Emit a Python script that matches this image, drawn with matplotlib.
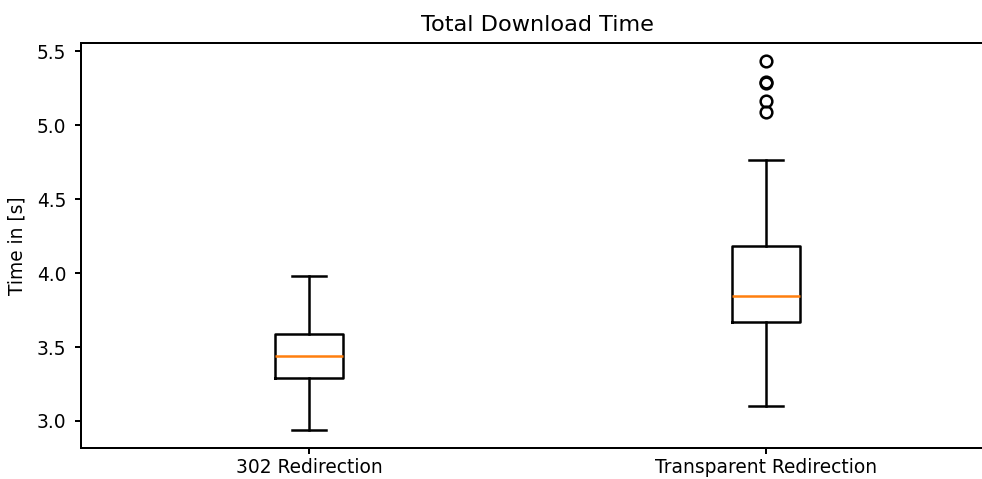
import matplotlib
matplotlib.use("Agg")
import matplotlib.pyplot as plt

categories = ["302 Redirection", "Transparent Redirection"]
q1 = [3.293, 3.667]
medians = [3.440, 3.847]
q3 = [3.586, 4.180]
whislo = [2.942, 3.104]
whishi = [3.982, 4.763]
fliers = [[], [5.432, 5.290, 5.285, 5.160, 5.088]]

stats = []
for i, name in enumerate(categories):
    stats.append(dict(label=name, q1=q1[i], med=medians[i], q3=q3[i],
                      whislo=whislo[i], whishi=whishi[i], fliers=fliers[i]))

W, H, DPI = 982, 479, 120
fig = plt.figure(figsize=(W / DPI, H / DPI), dpi=DPI)
ax = fig.add_axes([80.7 / W, (H - 448) / H, 914 / W, (448 - 42.7) / H])
lw = 1.5
ax.bxp(stats,
       boxprops=dict(linewidth=lw),
       whiskerprops=dict(linewidth=lw),
       capprops=dict(linewidth=lw),
       medianprops=dict(linewidth=lw, color="#ff7f0e"),
       flierprops=dict(marker="o", markersize=7, markeredgewidth=1.5,
                       markerfacecolor="none", markeredgecolor="black"))
for s in ax.spines.values():
    s.set_linewidth(1.2)
ax.spines["right"].set_visible(False)
ax.tick_params(labelsize=11.2, width=1.2, length=3.8)
ax.tick_params(axis="y", pad=4.8)
ax.tick_params(axis="x", pad=2.2)
ax.set_title("Total Download Time", fontsize=13.4, pad=7)
ax.set_ylabel("Time in [s]", fontsize=11.2, labelpad=6)
fig.savefig("out.png", dpi=DPI)
